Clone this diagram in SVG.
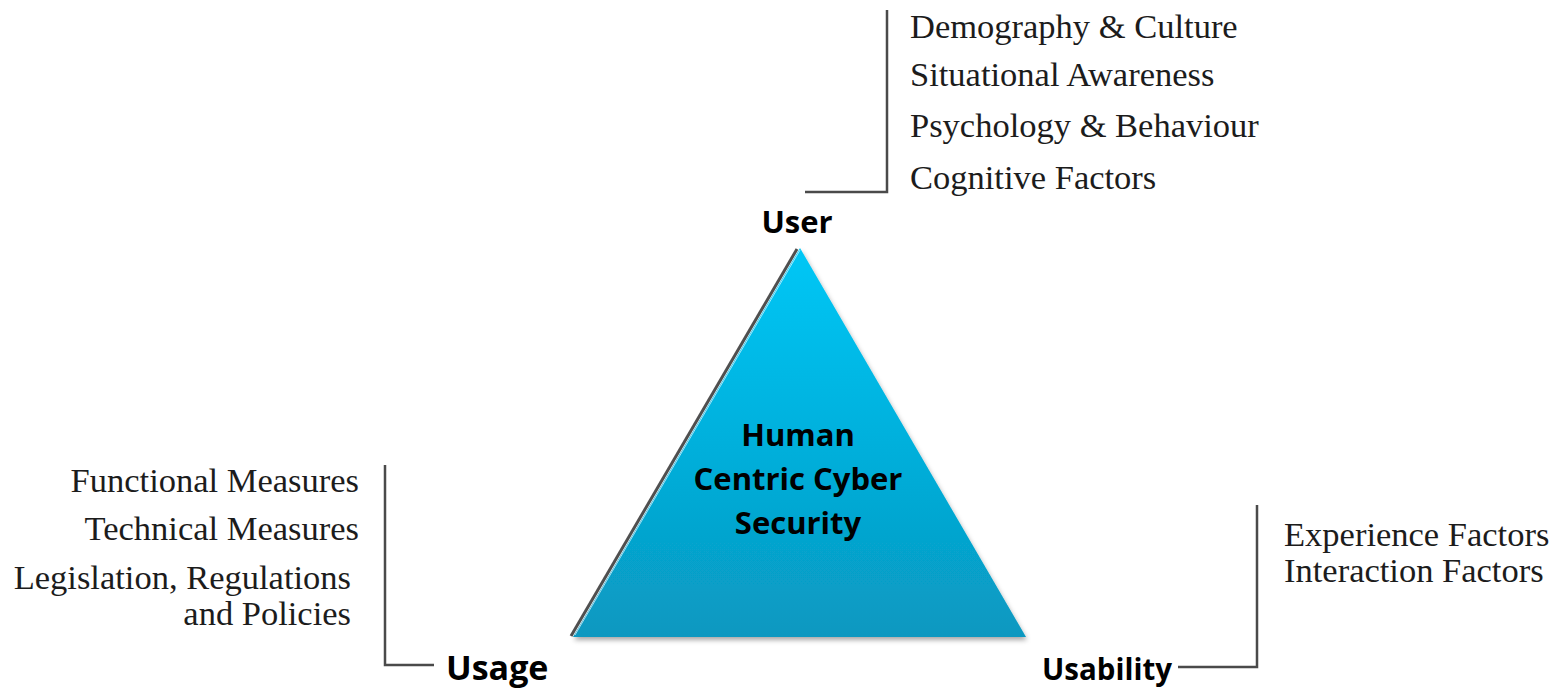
<svg xmlns="http://www.w3.org/2000/svg" width="1556" height="689" viewBox="0 0 1556 689">
  <defs>
    <linearGradient id="tri" x1="0" y1="0" x2="0" y2="1">
      <stop offset="0" stop-color="#00c7f6"/>
      <stop offset="0.5" stop-color="#04b0dc"/>
      <stop offset="1" stop-color="#0898c0"/>
    </linearGradient>
    <filter id="shadow" x="-10%" y="-10%" width="120%" height="125%">
      <feDropShadow dx="1" dy="3" stdDeviation="2.5" flood-color="#000" flood-opacity="0.35"/>
    </filter>
    <style>
      .item { font-family: "Liberation Serif", "Times New Roman", serif; font-size: 34.5px; fill: #1c1c1c; }
      .label { font-family: "Open Sans", "Liberation Sans", sans-serif; font-weight: bold; font-size: 31px; fill: #000; }
      .center { font-family: "Open Sans", "Liberation Sans", sans-serif; font-weight: bold; font-size: 31px; fill: #000; text-anchor: middle; }
      .bracket { fill: none; stroke: #4a4a4a; stroke-width: 2.5; }
    </style>
  </defs>
  <rect width="1556" height="689" fill="#ffffff"/>

  <g id="connectors">
    <path class="bracket" d="M887,10 V192 H805"/>
    <path class="bracket" d="M385,465 V665 H434"/>
    <path class="bracket" d="M1257,505 V667 H1178"/>
  </g>

  <g id="triangle">
    <line x1="571" y1="636" x2="797" y2="249" stroke="#505050" stroke-width="3"/>
    <polygon points="800,248 1026,637 573,637" fill="url(#tri)" filter="url(#shadow)"/>
    <line x1="575" y1="635" x2="800" y2="250" stroke="#e8f8ff" stroke-width="1" opacity="0.7"/>
    <text class="center" x="798" y="446">Human</text>
    <text class="center" x="798" y="490">Centric Cyber</text>
    <text class="center" x="798" y="534">Security</text>
  </g>

  <g id="user">
    <text class="label" x="797" y="233" text-anchor="middle">User</text>
    <text class="item" x="910" y="38">Demography &amp; Culture</text>
    <text class="item" x="910" y="86">Situational Awareness</text>
    <text class="item" x="910" y="137">Psychology &amp; Behaviour</text>
    <text class="item" x="910" y="189">Cognitive Factors</text>
  </g>

  <g id="usage">
    <text class="label" x="446" y="680" style="font-size:34px">Usage</text>
    <text class="item" x="359" y="492" text-anchor="end">Functional Measures</text>
    <text class="item" x="359" y="540" text-anchor="end">Technical Measures</text>
    <text class="item" x="351" y="589" text-anchor="end">Legislation, Regulations</text>
    <text class="item" x="351" y="625" text-anchor="end">and Policies</text>
  </g>

  <g id="usability">
    <text class="label" x="1042" y="680" textLength="130" lengthAdjust="spacingAndGlyphs">Usability</text>
    <text class="item" x="1284" y="546">Experience Factors</text>
    <text class="item" x="1284" y="582">Interaction Factors</text>
  </g>
</svg>
